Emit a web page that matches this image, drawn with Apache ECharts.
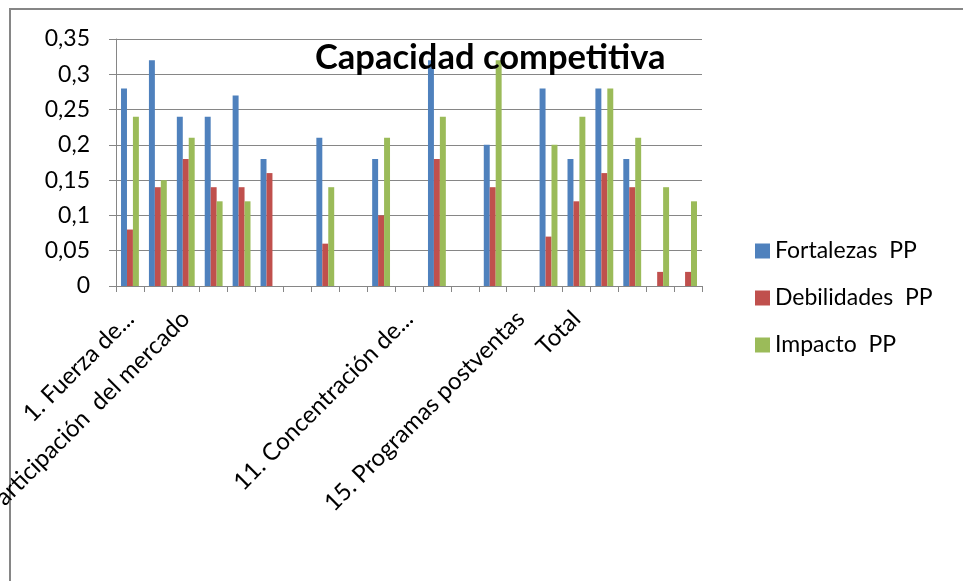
<!DOCTYPE html>
<html>
<head>
<meta charset="utf-8">
<script src="https://cdn.jsdelivr.net/npm/echarts@6/dist/echarts.min.js"></script>
<style>
  html, body { margin: 0; padding: 0; background: #fff; }
  #main { width: 963px; height: 581px; }
</style>
</head>
<body>
<div id="main"></div>
<script>
// categorias del eje x (solo algunas tienen texto visible)
var categorias = [
  '1. Fuerza de...', '', '3. Participación  del mercado', '', '', '', '', '', '', '',
  '11. Concentración de...', '', '', '', '15. Programas postventas', '', 'Total', '', '', '', ''
];
var fortalezas  = [0.28, 0.32, 0.24, 0.24, 0.27, 0.18, 0, 0.21, 0, 0.18, 0, 0.32, 0, 0.20, 0, 0.28, 0.18, 0.28, 0.18, 0, 0];
var debilidades = [0.08, 0.14, 0.18, 0.14, 0.14, 0.16, 0, 0.06, 0, 0.10, 0, 0.18, 0, 0.14, 0, 0.07, 0.12, 0.16, 0.14, 0.02, 0.02];
var impacto     = [0.24, 0.15, 0.21, 0.12, 0.12, 0, 0, 0.14, 0, 0.21, 0, 0.24, 0, 0.32, 0, 0.20, 0.24, 0.28, 0.21, 0.14, 0.12];
var yTicks = [0, 0.35, 0.05];  // min, max, interval

var font = 'Lato, "Open Sans", sans-serif';
var chart = echarts.init(document.getElementById('main'));

var option = {
  animation: false,
  textStyle: { fontFamily: font },
  title: {
    text: 'Capacidad competitiva',
    left: 310,
    top: 35,
    textStyle: { fontSize: 34.5, fontWeight: 'bold', color: '#000', fontFamily: font }
  },
  legend: {
    orient: 'vertical',
    left: 750,
    top: 234,
    itemWidth: 15,
    itemHeight: 15,
    itemGap: 23,
    itemStyle: { borderWidth: 0 },
    icon: 'rect',
    textStyle: { fontSize: 23, lineHeight: 24, color: '#000', fontFamily: font },
    data: ['Fortalezas  PP', 'Debilidades  PP', 'Impacto  PP']
  },
  grid: { left: 116, right: 261, top: 39, bottom: 295, outerBoundsMode: 'none' },
  xAxis: {
    type: 'category',
    data: categorias,
    axisLine: { lineStyle: { color: '#868686', width: 1 } },
    axisTick: { show: true, interval: 0, length: 6, lineStyle: { color: '#868686' } },
    axisLabel: {
      interval: 0,
      rotate: 45,
      margin: 29,
      padding: [18, 0, 0, 0],
      fontSize: 24,
      color: '#000',
      fontFamily: font
    }
  },
  yAxis: {
    type: 'value',
    min: yTicks[0],
    max: yTicks[1],
    interval: yTicks[2],
    axisLine: { show: true, lineStyle: { color: '#868686' } },
    axisTick: { show: true, length: 7, lineStyle: { color: '#868686' } },
    splitLine: { lineStyle: { color: '#868686', width: 1 } },
    axisLabel: {
      fontSize: 23,
      color: '#000',
      margin: 26,
      fontFamily: font,
      formatter: function (v) { return String(+v.toFixed(2)).replace('.', ','); }
    }
  },
  graphic: [
    {
      type: 'rect',
      shape: { x: 10, y: 9, width: 1200, height: 1200 },
      style: { fill: 'none', stroke: '#868686', lineWidth: 2 },
      silent: true
    }
  ],
  series: [
    { name: 'Fortalezas  PP', type: 'bar', data: fortalezas, barGap: 0, barCategoryGap: '36%', itemStyle: { color: '#4F81BD' } },
    { name: 'Debilidades  PP', type: 'bar', data: debilidades, barGap: 0, barCategoryGap: '36%', itemStyle: { color: '#C0504D' } },
    { name: 'Impacto  PP', type: 'bar', data: impacto, barGap: 0, barCategoryGap: '36%', itemStyle: { color: '#9BBB59' } }
  ]
};

chart.setOption(option);
</script>
</body>
</html>
